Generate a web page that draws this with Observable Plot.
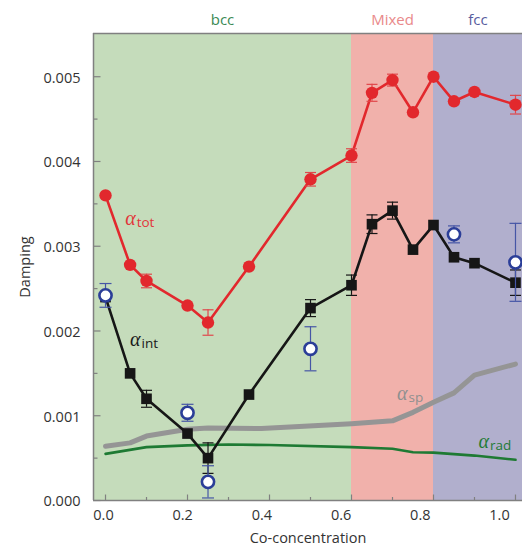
<!DOCTYPE html>
<html>
<head>
<meta charset="utf-8">
<script src="https://cdn.jsdelivr.net/npm/d3@7"></script>
<script src="https://cdn.jsdelivr.net/npm/@observablehq/plot@0.6"></script>
<style>
  html, body { margin: 0; padding: 0; background: #fff; }
  #chart svg { display: block; }
</style>
</head>
<body>
<div id="chart"></div>
<script>
// ---------- data ----------
const conc = [0, 0.06, 0.1, 0.2, 0.25, 0.35, 0.5, 0.6, 0.65, 0.7, 0.75, 0.8, 0.85, 0.9, 1.0];
const totDamping = [0.00360, 0.00278, 0.00259, 0.00230, 0.00210, 0.00276, 0.00379, 0.00407, 0.00481, 0.00496, 0.00458, 0.00500, 0.00471, 0.00482, 0.00467];
const totErr     = [0, 0, 0.00008, 0, 0.00015, 0, 0.00008, 0.00008, 0.00010, 0.00007, 0, 0, 0, 0, 0.00011];
const intDamping = [0.00240, 0.00150, 0.00120, 0.00079, 0.00050, 0.00125, 0.00227, 0.00254, 0.00326, 0.00342, 0.00296, 0.00325, 0.00287, 0.00280, 0.00257];
const intErr     = [0, 0, 0.00010, 0, 0.00018, 0, 0.00010, 0.00012, 0.00011, 0.00010, 0, 0, 0, 0, 0.00015];

const openConc = [0, 0.2, 0.25, 0.5, 0.85, 1.0];
const openDamping = [0.00242, 0.001035, 0.00022, 0.00179, 0.00314, 0.00281];
const openErr = [0.00014, 0.00010, 0.00019, 0.00026, 0.00010, 0.00046];

const spConc = [0, 0.06, 0.1, 0.2, 0.25, 0.38, 0.6, 0.7, 0.75, 0.8, 0.85, 0.9, 1.0];
const spDamping = [0.00064, 0.00068, 0.00076, 0.00084, 0.000855, 0.00085, 0.000905, 0.00094, 0.00104, 0.00116, 0.00127, 0.00148, 0.00161];

const radConc = [0, 0.1, 0.2, 0.3, 0.4, 0.6, 0.7, 0.75, 0.8, 0.9, 1.0];
const radDamping = [0.00055, 0.00063, 0.00065, 0.00066, 0.000655, 0.00063, 0.00061, 0.00057, 0.000565, 0.00053, 0.00048];

const xMin = -0.0293, xMax = 1.0171, yMax = 0.00551;
const phases = ["bcc", "Mixed", "fcc"];
const phaseStart = [xMin, 0.6, 0.8];
const phaseEnd = [0.6, 0.8, xMax];

const yMajor = [0, 0.001, 0.002, 0.003, 0.004, 0.005];
const yMinor = [0.0005, 0.0015, 0.0025, 0.0035, 0.0045];
const xMajor = [0, 0.2, 0.4, 0.6, 0.8, 1.0];
const xMinor = [0.1, 0.3, 0.5, 0.7, 0.9];

const labelNames = ["tot", "int", "sp", "rad"];
const labelConc = [0.048, 0.060, 0.711, 0.910];
const labelDamping = [0.00333, 0.00190, 0.00126, 0.00069];

// ---------- styles ----------
const phaseFill = {bcc: "#c5dcbb", Mixed: "#f1b1ab", fcc: "#b1afcd"};
const phaseText = {bcc: "#3b8a55", Mixed: "#e9898a", fcc: "#585c9e"};
const labelColor = {tot: "#e2353a", int: "#1a1a1a", sp: "#8f8f8f", rad: "#1f7b35"};
const RED = "#e2282d", BLACK = "#161616", BLUE = "#2b3e98", GRAY = "#959595", GREEN = "#1e7a33", AXIS = "#808080";
const FONT = "Open Sans, sans-serif";

// ---------- tables ----------
const main = conc.map((c, i) => ({c, tot: totDamping[i], totE: totErr[i], int: intDamping[i], intE: intErr[i]}));
const totE = main.filter(d => d.totE > 0);
const intE = main.filter(d => d.intE > 0);
const open = openConc.map((c, i) => ({c, v: openDamping[i], e: openErr[i]}));
const sp = spConc.map((c, i) => ({c, v: spDamping[i]}));
const rad = radConc.map((c, i) => ({c, v: radDamping[i]}));
const regions = phases.map((p, i) => ({p, x1: phaseStart[i], x2: phaseEnd[i]}));
const labels = labelNames.map((n, i) => ({n, c: labelConc[i], v: labelDamping[i]}));

// custom symbols
const hcap = w => ({draw(ctx) { ctx.moveTo(-w / 2, 0); ctx.lineTo(w / 2, 0); }});
const tickRight = len => ({draw(ctx) { ctx.moveTo(0, 0); ctx.lineTo(len, 0); }});
const tickUp = len => ({draw(ctx) { ctx.moveTo(0, 0); ctx.lineTo(0, -len); }});

function errorBars(data, x, v, e, color, cap, sw) {
  return [
    Plot.ruleX(data, {x, y1: d => v(d) - e(d), y2: d => v(d) + e(d), stroke: color, strokeWidth: sw}),
    Plot.dot(data, {x, y: d => v(d) - e(d), symbol: hcap(cap), stroke: color, strokeWidth: sw, fill: "none"}),
    Plot.dot(data, {x, y: d => v(d) + e(d), symbol: hcap(cap), stroke: color, strokeWidth: sw, fill: "none"})
  ];
}

const fmtX = d3.format(".1f"), fmtY = d3.format(".3f");

const chart = Plot.plot({
  width: 522,
  height: 547,
  marginLeft: 93,
  marginRight: 0,
  marginTop: 33,
  marginBottom: 47,
  style: {fontFamily: FONT, fontSize: "14px", color: "#333", background: "#fff", overflow: "visible"},
  x: {domain: [xMin, xMax], axis: null},
  y: {domain: [0, yMax], axis: null},
  color: {type: "identity"},
  marks: [
    Plot.rect(regions, {x1: "x1", x2: "x2", fill: d => phaseFill[d.p]}),
    Plot.text(regions, {x: d => (d.x1 + d.x2) / 2, text: "p", frameAnchor: "top", lineAnchor: "middle", dy: -13, fill: d => phaseText[d.p], fontSize: 15}),
    // frame
    Plot.ruleY([0], {stroke: AXIS, strokeWidth: 1.5}),
    Plot.ruleY([yMax], {stroke: AXIS, strokeWidth: 1.5}),
    Plot.ruleX([xMin], {stroke: AXIS, strokeWidth: 1.5}),
    // ticks
    Plot.dot(yMajor, {y: d => d, frameAnchor: "left", symbol: tickRight(7), stroke: AXIS, strokeWidth: 1.2, fill: "none"}),
    Plot.dot(yMinor, {y: d => d, frameAnchor: "left", symbol: tickRight(4), stroke: AXIS, strokeWidth: 1.2, fill: "none"}),
    Plot.dot(xMajor, {x: d => d, frameAnchor: "bottom", symbol: tickUp(6), stroke: AXIS, strokeWidth: 1.2, fill: "none"}),
    Plot.dot(xMinor, {x: d => d, frameAnchor: "bottom", symbol: tickUp(3.5), stroke: AXIS, strokeWidth: 1.2, fill: "none"}),
    // tick labels
    Plot.text(yMajor, {y: d => d, text: d => fmtY(d), frameAnchor: "left", textAnchor: "end", lineAnchor: "middle", dx: -13, dy: 1.3, fontSize: 14.5, fill: "#333"}),
    ...xMajor.map(v => Plot.text([v], {x: d => d, text: d => fmtX(d), frameAnchor: "bottom", textAnchor: "middle", lineAnchor: "middle", dy: 14.5, dx: -2 - 14 * v, fontSize: 14.5, fill: "#333"})),
    Plot.text(["Co-concentration"], {frameAnchor: "bottom", textAnchor: "middle", lineAnchor: "middle", dy: 38, text: d => d, fontSize: 14.5, fill: "#333"}),
    Plot.text(["Damping"], {frameAnchor: "left", textAnchor: "middle", lineAnchor: "middle", dx: -68, rotate: -90, text: d => d, fontSize: 14.5, fill: "#333"}),
    // theory curves
    Plot.line(sp, {x: "c", y: "v", stroke: GRAY, strokeWidth: 5}),
    Plot.line(rad, {x: "c", y: "v", stroke: GREEN, strokeWidth: 2.6}),
    // total damping
    Plot.line(main, {x: "c", y: "tot", stroke: RED, strokeWidth: 2.6}),
    ...errorBars(totE, "c", d => d.tot, d => d.totE, "#e0474b", 11, 1.2),
    Plot.dot(main, {x: "c", y: "tot", r: 6.2, fill: RED, stroke: "none"}),
    // intrinsic damping
    Plot.line(main, {x: "c", y: "int", stroke: BLACK, strokeWidth: 2.6}),
    ...errorBars(intE, "c", d => d.int, d => d.intE, BLACK, 11, 1.2),
    Plot.dot(main, {x: "c", y: "int", r: 6.0, symbol: "square", fill: BLACK, stroke: "none"}),
    // open circles
    ...errorBars(open, "c", d => d.v, d => d.e, "#4656a6", 12, 1.2),
    Plot.dot(open, {x: "c", y: "v", r: 6.1, fill: "#fff", stroke: BLUE, strokeWidth: 2.6}),
    // alpha labels
    Plot.text(labels, {x: "c", y: "v", text: () => "α", textAnchor: "start", fill: d => labelColor[d.n], fontFamily: "Liberation Serif, serif", fontStyle: "italic", fontSize: 20}),
    Plot.text(labels, {x: "c", y: "v", text: "n", textAnchor: "start", dx: 11.5, dy: 4, fill: d => labelColor[d.n], fontSize: 13.5})
  ]
});
document.getElementById("chart").appendChild(chart);
</script>
</body>
</html>
